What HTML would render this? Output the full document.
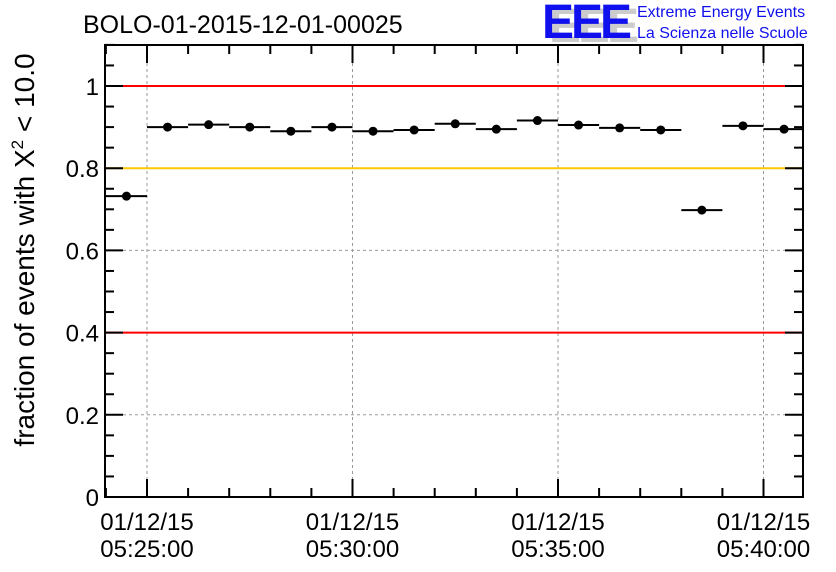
<!DOCTYPE html>
<html><head><meta charset="utf-8"><style>body{margin:0;background:#fff}svg{display:block;font-family:"Liberation Sans",sans-serif}</style></head>
<body>
<svg id="c" width="836" height="572">
<text x="83" y="33" font-size="25">BOLO-01-2015-12-01-00025</text>
<g>
<text x="549" y="42" font-size="48" font-weight="bold" fill="#ccc" letter-spacing="-3">EEE</text>
<text x="542" y="38" font-size="48" font-weight="bold" fill="#1010ee" letter-spacing="-3">EEE</text>
<text x="637" y="17" font-size="16" fill="#1010ee">Extreme Energy Events</text>
<text x="637" y="38" font-size="16" fill="#1010ee">La Scienza nelle Scuole</text>
</g>
<text transform="translate(34,250) rotate(-90)" text-anchor="middle" font-size="28">fraction of events with Χ<tspan dy="-11" font-size="17">2</tspan><tspan dy="11"> &lt; 10.0</tspan></text>
<g id="plot"></g>
</svg>
<script>
const binStartsMin = [-1,0,1,2,3,4,5,6,7,8,9,10,11,12,13,14,15];
const values = [0.732,0.900,0.906,0.900,0.890,0.900,0.890,0.893,0.908,0.895,0.916,0.905,0.898,0.893,0.698,0.903,0.895];
const yTicks = [0,0.2,0.4,0.6,0.8,1];
const yTickLabels = ["0","0.2","0.4","0.6","0.8","1"];
const xTicksMin = [0,5,10,15];
const xTickLabels = [["01/12/15","05:25:00"],["01/12/15","05:30:00"],["01/12/15","05:35:00"],["01/12/15","05:40:00"]];
const refLines = [{v:1,c:"#f00"},{v:0.8,c:"#ffc800"},{v:0.4,c:"#f00"}];

const L=105,R=803,T=45,B=497;
const x0=147,pxPerMin=41.1;
const X=m=>x0+m*pxPerMin;
const Y=v=>B-v*411;
const g=document.getElementById('plot');
const ns="http://www.w3.org/2000/svg";
function mk(t,a,p){const e=document.createElementNS(ns,t);for(const k in a)e.setAttribute(k,a[k]);(p||g).appendChild(e);return e;}
xTicksMin.forEach(m=>{const e=mk('line',{x1:X(m),x2:X(m),y1:T,y2:B,stroke:'#999','stroke-dasharray':'3,3'});

});
yTicks.forEach(v=>{const e=mk('line',{x1:L,x2:R,y1:Y(v),y2:Y(v),stroke:'#999','stroke-dasharray':'3,3'});

});
refLines.forEach(r=>{const e=mk('line',{x1:L,x2:R,y1:Y(r.v),y2:Y(r.v),stroke:r.c,'stroke-width':2});

});
const f=mk('rect',{x:L,y:T,width:R-L,height:B-T,fill:'none',stroke:'#000','stroke-width':2});


for(let v=0;v<=1.1001;v+=0.05){const maj=Math.abs(v*5-Math.round(v*5))<1e-6;const len=maj?18:9;
mk('line',{x1:L,x2:L+len,y1:Y(v),y2:Y(v),stroke:'#000','stroke-width':2});
mk('line',{x1:R,x2:R-len,y1:Y(v),y2:Y(v),stroke:'#000','stroke-width':2});}
yTicks.forEach((v,i)=>{const t=mk('text',{x:L-6,y:Y(v)+9,'text-anchor':'end','font-size':24});t.textContent=yTickLabels[i];

});
for(let m=-1;m<=16;m++){const x=X(m);if(x<L||x>R)continue;const maj=m%5===0;const len=maj?18:9;
mk('line',{x1:x,x2:x,y1:B,y2:B-len,stroke:'#000','stroke-width':2});
mk('line',{x1:x,x2:x,y1:T,y2:T+len,stroke:'#000','stroke-width':2});}
xTicksMin.forEach((m,i)=>{const t=mk('text',{x:X(m),y:530,'text-anchor':'middle','font-size':24});t.textContent=xTickLabels[i][0];


const t2=mk('text',{x:X(m),y:557,'text-anchor':'middle','font-size':24});t2.textContent=xTickLabels[i][1];

});
values.forEach((v,i)=>{const a=Math.max(L,X(binStartsMin[i])),b=Math.min(R,X(binStartsMin[i]+1));const cx=X(binStartsMin[i]+0.5);
const l=mk('line',{x1:a,x2:b,y1:Y(v),y2:Y(v),stroke:'#000','stroke-width':2});


const c=mk('circle',{cx:cx,cy:Y(v),r:4.5,fill:'#000'});

});
</script>
</body></html>
